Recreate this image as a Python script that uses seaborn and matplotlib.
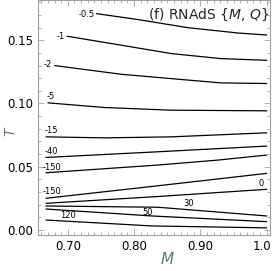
import pandas as pd
import seaborn as sns
import matplotlib.pyplot as plt
import matplotlib.transforms as mtransforms
from matplotlib.ticker import MultipleLocator

# --- contour levels (M on x, T on y) ---
m_a = [0.743, 0.806, 0.881, 0.956, 1.0]
t_a = [0.1711, 0.1664, 0.1600, 0.1558, 0.1542]      # -0.5

m_b = [0.699, 0.781, 0.856, 0.931, 1.0]
t_b = [0.1532, 0.1461, 0.1395, 0.1355, 0.1342]      # -1

m_c = [0.680, 0.781, 0.871, 0.931, 1.0]
t_c = [0.1300, 0.1231, 0.1190, 0.1163, 0.1158]      # -2

m_d = [0.670, 0.756, 0.856, 1.0]
t_d = [0.1005, 0.0968, 0.0947, 0.0942]              # -5

m_e = [0.667, 0.756, 0.856, 1.0]
t_e = [0.0736, 0.0728, 0.0736, 0.0768]              # -15

m_f = [0.667, 0.836, 1.0]
t_f = [0.0573, 0.0618, 0.0663]                      # -40

m_g = [0.667, 0.836, 0.926, 1.0]
t_g = [0.0452, 0.0513, 0.0552, 0.0592]              # -150 (upper)

m_h = [0.667, 0.836, 1.0]
t_h = [0.0250, 0.0349, 0.0447]                      # -150 (lower)

m_i = [0.667, 0.836, 1.0]
t_i = [0.0210, 0.0264, 0.0321]                      # 0

m_j = [0.667, 0.836, 1.0]
t_j = [0.0189, 0.0179, 0.0110]                      # 30

m_k = [0.667, 0.827, 1.0]
t_k = [0.0165, 0.0110, 0.0065]                      # 50

m_l = [0.667, 0.827, 1.0]
t_l = [0.0078, 0.0031, 0.0016]                      # 120

curve_m = [m_a, m_b, m_c, m_d, m_e, m_f, m_g, m_h, m_i, m_j, m_k, m_l]
curve_t = [t_a, t_b, t_c, t_d, t_e, t_f, t_g, t_h, t_i, t_j, t_k, t_l]

label_text = ['-0.5', '-1', '-2', '-5', '-15', '-40', '-150', '-150', '0', '30', '50', '120']
label_pos = [(0.728, 0.1705), (0.690, 0.1534), (0.6704, 0.1308), (0.674, 0.1052),
             (0.6744, 0.0789), (0.6754, 0.0618), (0.6764, 0.0494), (0.6764, 0.0302),
             (0.9922, 0.0363), (0.8829, 0.0210), (0.8197, 0.0141), (0.7005, 0.0110)]

rows = []
for k, (ms, ts) in enumerate(zip(curve_m, curve_t)):
    for m, t in zip(ms, ts):
        rows.append({'curve': k, 'M': m, 'T': t})
df = pd.DataFrame(rows)

sns.set_style('ticks')
plt.rcParams['font.family'] = ['DejaVu Sans']
plt.rcParams['mathtext.fontset'] = 'dejavusans'

fig = plt.figure(figsize=(2.74, 2.71), dpi=100)
ax = fig.add_axes([0.1387, 0.1317, 0.8467, 0.8665])

sns.lineplot(data=df, x='M', y='T', units='curve', estimator=None, sort=False,
             color='black', linewidth=0.9, ax=ax, legend=False)

for txt, (m, t) in zip(label_text, label_pos):
    ax.text(m, t, txt, fontsize=6, ha='center', va='center', color='black')

ax.text(0.998, 0.975, r'(f) RNAdS {$\mathit{M}$, $\mathit{Q}$}', transform=ax.transAxes,
        ha='right', va='top', fontsize=10)

ax.set_xlim(0.655, 1.005)
ax.set_ylim(-0.0043, 0.1815)
ax.xaxis.set_major_locator(MultipleLocator(0.1))
ax.xaxis.set_minor_locator(MultipleLocator(0.01))
ax.yaxis.set_major_locator(MultipleLocator(0.05))
ax.yaxis.set_minor_locator(MultipleLocator(0.01))
ax.set_xticks([0.7, 0.8, 0.9, 1.0])
ax.set_xticklabels(['0.70', '0.80', '0.90', '1.0'])
ax.set_yticks([0.0, 0.05, 0.10, 0.15])
ax.set_yticklabels(['0.00', '0.05', '0.10', '0.15'])

for s in ax.spines.values():
    s.set_visible(True)
    s.set_color('#a0a0a0')
    s.set_linewidth(0.8)
ax.tick_params(which='both', direction='in', top=True, right=True, color='#a0a0a0',
               labelsize=8.5, labelcolor='black', width=0.6)
ax.tick_params(which='major', length=4, pad=3.5)
ax.tick_params(which='minor', length=2)

# last x label sits a little left so it stays inside the figure
last = ax.get_xticklabels()[-1]
last.set_transform(last.get_transform() + mtransforms.ScaledTranslation(-5 / 100, 0, fig.dpi_scale_trans))

lab_color = '#607878'
ax.set_xlabel('M', fontstyle='italic', fontsize=11, color=lab_color)
ax.set_ylabel('T', fontstyle='italic', fontsize=10, color=lab_color)
ax.xaxis.set_label_coords(0.556, -0.072)
ax.yaxis.set_label_coords(-0.088, 0.443)

plt.savefig('out.png', dpi=100)
plt.close()
